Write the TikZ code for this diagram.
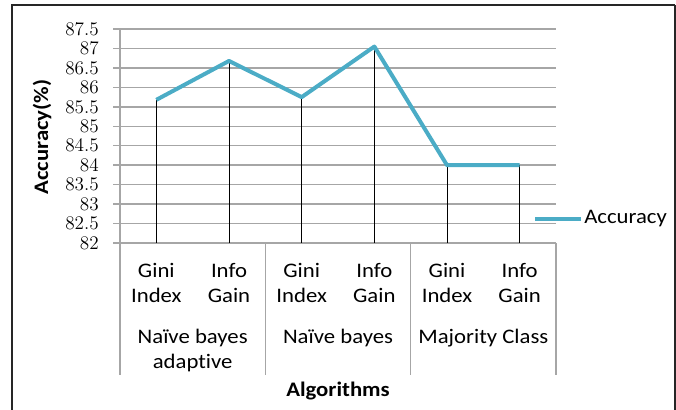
\documentclass[tikz,border=0pt]{standalone}
\usepackage{fontspec}
\setmainfont{Carlito}[FakeStretch=1.1, Ligatures=NoCommon]

\definecolor{accline}{HTML}{4BACC6}
\definecolor{gridgray}{HTML}{A6A6A6}
\definecolor{framegray}{HTML}{262626}

\tikzset{
    gridline/.style={gridgray, line width=1.1pt},
    dropline/.style={black, line width=0.7pt},
    dataline/.style={accline, line width=3pt, line join=round},
    ticklabel/.style={anchor=east, inner sep=0pt},
    catlabel/.style={anchor=north, align=center, inner sep=0pt},
}

\begin{document}
\begin{tikzpicture}[x=0.75pt, y=-0.75pt, font=\fontsize{15.5}{18.75}\selectfont]

    % constants (pixels of the chart)
    \def\xl{120}      % left edge of the plot area
    \def\xr{556}      % right edge of the plot area
    \def\yb{243}      % y of 82
    \def\du{38.9}     % pixels per unit of accuracy
    \def\cw{72.67}    % width of one category

    \useasboundingbox (0,0) rectangle (676,410);

    % outer frame
    \draw [framegray, line width=1.9pt] (12,410) -- (12,5) -- (675,5);
    \draw [framegray, line width=1.2pt] (675,5) -- (675,410);

    % grid lines and tick labels
    \foreach \v [count=\i from 0] in {82,82.5,...,87.5} {
        \draw [gridline] (113,{\yb-\i*\du/2}) -- (\xr,{\yb-\i*\du/2});
        \node [ticklabel] (tick\i) at (99,{\yb-\i*\du/2}) {\pgfmathprintnumber[precision=1]{\v}};
    }
    \draw [gridline] (\xl,{\yb-11*\du/2}) -- (\xl,\yb);

    % group separators below the axis
    \foreach \g in {0,1,2,3}
        \draw [gridline] ({\xl+2*\g*\cw},\yb) -- ({\xl+2*\g*\cw},375);

    % data points
    \foreach \v [count=\i] in {85.68,86.68,85.75,87.05,84,84} {
        \coordinate (p\i) at ({\xl+(\i-0.5)*\cw},{\yb-(\v-82)*\du});
        \coordinate (b\i) at ({\xl+(\i-0.5)*\cw},\yb);
        \draw [dropline] (p\i) -- (b\i);
    }
    \draw [dataline] (p1) -- (p2) -- (p3) -- (p4) -- (p5) -- (p6);

    % category labels
    \foreach \i in {1,3,5}
        \node [catlabel] (cat\i) at ({\xl+(\i-0.5)*\cw},263) {Gini\\Index};
    \foreach \i in {2,4,6}
        \node [catlabel] (cat\i) at ({\xl+(\i-0.5)*\cw},263) {Info\\Gain};

    % group labels
    \node [catlabel] (nba) at ({\xl+\cw},329) {Naïve bayes\\adaptive};
    \node [catlabel] (nb) at ({\xl+3*\cw},329) {Naïve bayes};
    \node [catlabel] (maj) at ({\xl+5*\cw},329) {Majority Class};

    % axis titles
    \node [font=\fontsize{15.5}{18.75}\selectfont\bfseries] (xtitle) at (338,391) {Algorithms};
    \node [rotate=90, font=\fontsize{15.5}{18.75}\selectfont\bfseries] (ytitle) at (42,137) {Accuracy(\%)};

    % legend
    \coordinate (leg1) at (535,219);
    \coordinate (leg2) at (581,219);
    \draw [dataline] (leg1) -- (leg2);
    \node [anchor=west, inner sep=0pt] (legtext) at (584,219) {Accuracy};

\end{tikzpicture}
\end{document}
